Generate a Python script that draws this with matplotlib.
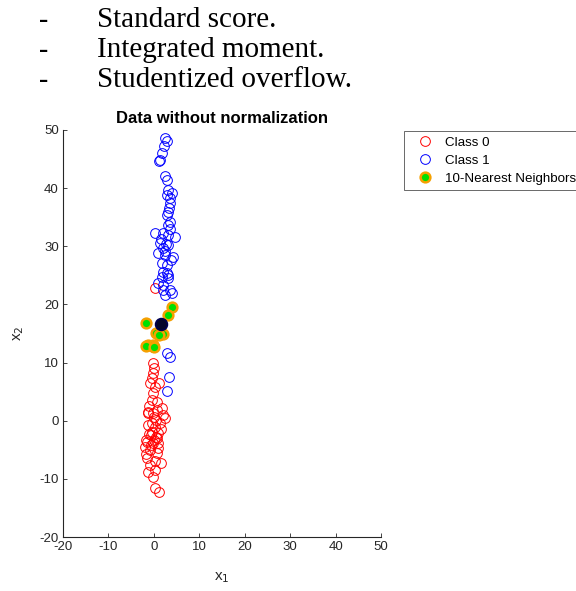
import numpy as np
import matplotlib
matplotlib.use("Agg")
import matplotlib.pyplot as plt

plt.rcParams["axes.unicode_minus"] = False

# class 0 (red)
x0 = [0.2, -0.2, 0.0, -0.2, -0.4, -0.9, 1.1, 0.2, -0.2, -0.4, 0.7, -1.3, 1.8,
      -1.3, -0.2, 2.0, 0.5, -1.3, 0.2, 0.9, 1.5, -1.5, -0.2, 0.9, -0.9, 0.7,
      -1.5, -0.9, 0.2, -1.3, -0.2, 0.2, 1.1, -1.8, -2.0, 0.4, -0.6, 1.3, 0.0,
      -1.0, 0.6, -0.3, 1.0, -1.7, 0.3, -0.7, 0.8, 2.5, -0.5, 0.1, -1.1, 1.6,
      -1.7, -0.2, -1.3, 0.5, -0.2, 0.0]
y0 = [22.8, 9.9, 9.1, 8.2, 7.3, 6.5, 6.5, 5.8, 4.8, 3.6, 3.2, 1.5, 2.2,
      1.3, 1.3, 1.0, 0.2, -0.7, -1.1, -2.1, -1.5, -3.7, -3.8, -3.8, -5.0, -5.6,
      -6.4, -7.6, -8.5, -8.8, -9.7, -11.6, -12.3, -3.3, -4.5, -2.8, -2.5, -0.4, 0.6,
      2.6, 1.9, -1.9, -4.7, -5.8, -6.9, -4.2, -3.0, 0.5, -0.4, -3.3, -2.2, -7.2,
      16.8, 13.0, 13.0, 15.1, 12.6, 12.8]

# class 1 (blue)
x1 = [2.5, 2.9, 2.2, 1.8, 1.3, 1.1, 2.5, 2.9, 3.1, 4.0, 2.9, 3.5, 3.5, 3.1,
      2.9, 3.5, 3.1, 0.2, 2.0, 3.1, 4.6, 1.3, 3.1, 2.0, 0.9, 2.5, 4.2, 1.8,
      2.9, 2.0, 3.1, 2.9, 1.8, 3.1, 0.9, 2.0, 2.0, 3.5, 2.5, 4.0, 2.9, 3.5,
      3.3, 2.9, 4.0, 3.1, 2.0, 1.2, 2.7, 3.3, 3.6, 2.4, 1.6, 3.8]
y1 = [48.6, 48.1, 47.2, 46.0, 44.8, 44.6, 42.1, 41.4, 39.7, 39.1, 38.8, 38.3, 37.4, 35.9,
      35.4, 34.2, 33.7, 32.3, 32.3, 31.9, 31.6, 30.6, 30.2, 29.7, 28.8, 28.5, 28.1, 27.1,
      26.8, 25.6, 25.1, 25.4, 24.7, 24.5, 23.7, 23.3, 22.5, 22.5, 21.6, 21.9, 11.6, 11.0,
      7.5, 5.1, 19.6, 18.2, 14.9, 14.8, 30.4, 36.6, 33.0, 29.2, 31.2, 27.6]

# 10 nearest neighbors and query point
xk = [4.0, 3.1, -1.7, 0.5, 2.0, 1.2, -1.3, -0.2, -1.8, 0.0]
yk = [19.6, 18.2, 16.8, 15.1, 14.9, 14.8, 13.0, 13.0, 12.8, 12.6]
xq, yq = [1.6], [16.6]

bullets = ["Standard score.", "Integrated moment.", "Studentized overflow."]

fig = plt.figure(figsize=(5.76, 5.91), dpi=100)
for i, s in enumerate(bullets):
    yy = 1 - (27 + 30 * i) / 591
    fig.text(39 / 576, yy, "-", family="Liberation Serif", fontsize=20,
             fontweight="bold", va="baseline")
    fig.text(97 / 576, yy, s, family="Liberation Serif", fontsize=21, va="baseline")

ax = fig.add_axes([63 / 576, 1 - 537 / 591, 318 / 576, 407 / 591])
ax.plot(x0, y0, "o", ms=7, mfc="none", mec="#ff0000", mew=0.7, label="Class 0")
ax.plot(x1, y1, "o", ms=7, mfc="none", mec="#0000ff", mew=0.7, label="Class 1")
ax.plot(xk, yk, "o", ms=7, mfc="#00e000", mec="#f5a000", mew=1.8,
        label="10-Nearest Neighbors")
ax.plot(xq, yq, "o", ms=8.5, mfc="#05052a", mec="#000050", mew=1.2)

ax.set_xlim(-20, 50)
ax.set_ylim(-20, 50)
ax.set_xticks(np.arange(-20, 51, 10))
ax.set_yticks(np.arange(-20, 51, 10))
ax.spines["top"].set_visible(False)
ax.spines["right"].set_visible(False)
for sp in ("left", "bottom"):
    ax.spines[sp].set_color("#262626")
    ax.spines[sp].set_linewidth(0.8)
ax.tick_params(direction="in", length=3, width=0.6, colors="#262626",
               labelsize=9.5, labelfontfamily="Liberation Sans", pad=3)
ax.set_title("Data without normalization", family="Liberation Sans",
             fontsize=12, fontweight="bold", pad=5)
ax.set_xlabel("x$_1$", family="Liberation Sans", fontsize=11, color="#262626", labelpad=12)
ax.set_ylabel("x$_2$", family="Liberation Sans", fontsize=11, color="#262626", labelpad=10)

leg = fig.legend(loc="upper left", bbox_to_anchor=(404 / 576, 1 - 131 / 591),
                 prop={"family": "Liberation Sans", "size": 9.6}, frameon=True,
                 fancybox=False, edgecolor="#262626", handletextpad=0.4,
                 borderpad=0.4, labelspacing=0.43, handlelength=2.3,
                 borderaxespad=0)
leg.get_frame().set_linewidth(0.6)

fig.savefig("out.png", dpi=100)
